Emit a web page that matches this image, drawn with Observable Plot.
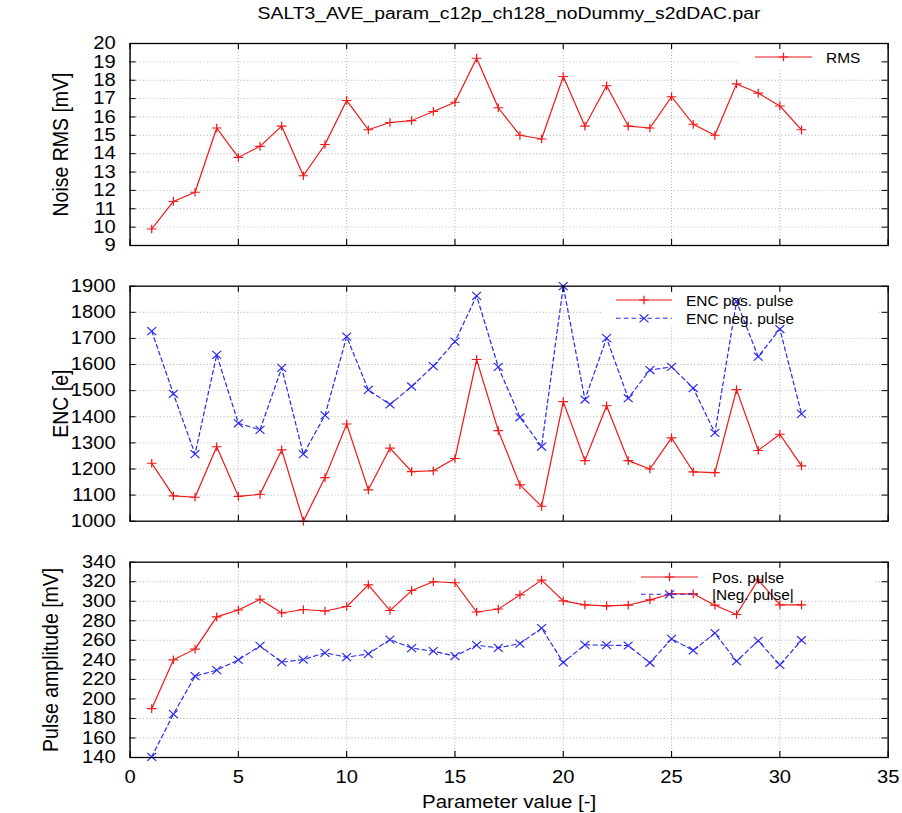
<!DOCTYPE html>
<html>
<head>
<meta charset="utf-8">
<script src="https://cdn.jsdelivr.net/npm/d3@7"></script>
<script src="https://cdn.jsdelivr.net/npm/@observablehq/plot@0.6"></script>
<style>
  body { margin: 0; background: #fff; }
  #chart { position: relative; width: 902px; height: 813px; overflow: hidden; background: #fff;
           font-family: "Liberation Sans", Arial, Helvetica, sans-serif; }
  #chart svg { position: absolute; left: 0; }
  #title { position: absolute; top: 5px; left: 508.5px; white-space: nowrap; font-size: 17.3px; line-height: 17.3px;
           transform: translateX(-50%) scaleX(1.12); transform-origin: center; color: #000; }
</style>
</head>
<body>
<div id="chart"><div id="title">SALT3_AVE_param_c12p_ch128_noDummy_s2dDAC.par</div></div>
<script>
// ---------- data ----------
const params = [1,2,3,4,5,6,7,8,9,10,11,12,13,14,15,16,17,18,19,20,21,22,23,24,25,26,27,28,29,30,31];
const rms = [9.9,11.4,11.9,15.4,13.8,14.4,15.5,12.8,14.5,16.9,15.3,15.7,15.8,16.3,16.8,19.2,16.5,15.0,14.8,18.2,15.5,17.7,15.5,15.4,17.1,15.6,15.0,17.8,17.3,16.6,15.3];
const encPos = [1222,1097,1092,1285,1095,1103,1273,1000,1167,1372,1120,1280,1190,1193,1240,1619,1347,1139,1057,1458,1232,1442,1232,1200,1319,1189,1186,1504,1271,1333,1212];
const encNeg = [1728,1488,1257,1637,1375,1350,1587,1257,1405,1707,1503,1447,1516,1594,1688,1863,1591,1398,1286,1900,1466,1701,1471,1579,1591,1510,1338,1842,1630,1736,1411];
const ampPos = [190,240,251,284,291,302,288,291.5,290,294.6,316.8,290.5,311,320,319,289,292,306.5,321.6,300.4,296.3,295.3,296,301.4,307.6,307.6,296,286.4,322,296.3,296.3];
const ampNeg = [140.7,184.4,223.3,229.4,240,254.3,237.6,240.3,247.2,242.7,246.1,260.8,252,248.9,243.8,255,252.3,256.7,272.4,237.3,255.4,255,254.7,237,261.5,249.6,267.3,238.6,259.5,234.9,260.1];

const xTicks = [0,5,10,15,20,25,30,35];
const rmsTicks = [9,10,11,12,13,14,15,16,17,18,19,20];
const encTicks = [1000,1100,1200,1300,1400,1500,1600,1700,1800,1900];
const ampTicks = [140,160,180,200,220,240,260,280,300,320,340];

const yLabels = ["Noise RMS [mV]", "ENC [e]", "Pulse amplitude [mV]"];
const xLabel = "Parameter value [-]";
const legendRms = ["RMS"];
const legendEnc = ["ENC pos. pulse", "ENC neg. pulse"];
const legendAmp = ["Pos. pulse", "|Neg. pulse|"];

const table = params.map((p, i) => ({p, rms: rms[i], encPos: encPos[i], encNeg: encNeg[i], ampPos: ampPos[i], ampNeg: ampNeg[i]}));

// ---------- layout ----------
const S = 1.12;                 // horizontal stretch of the original picture
const W = 902 / S;
const mL = 129.5 / S, mR = 14.4 / S;
const innerW = W - mL - mR;
const FONT = "'Liberation Sans', Arial, Helvetica, sans-serif";
const FS = 18;          // tick labels
const FS_AX = 19.5;     // rotated axis titles
const FS_X = 18.3;      // x axis title
const FS_LEG = 13.8;    // legend
const RED = "#f01818", BLUE = "#2a2af0";
const GRID = {stroke: "#b4b4b4", strokeOpacity: 1, strokeDasharray: "1,2", strokeWidth: 0.9};
const intFmt = d3.format("d");

const chart = document.getElementById("chart");

function makePanel(cfg) {
  const innerH = cfg.height - cfg.mt - cfg.mb;
  const marks = [
    Plot.gridX(xTicks.slice(1, -1), GRID),
    Plot.gridY(cfg.ticks.slice(1, -1), GRID),
    Plot.frame({fill: "white", stroke: null, ...cfg.box}),
  ];
  for (const s of cfg.series) {
    marks.push(Plot.line(table, {x: "p", y: s.key, stroke: s.color, strokeWidth: 1.1, strokeDasharray: s.dash}));
    marks.push(Plot.dot(table, {x: "p", y: s.key, symbol: s.symbol, r: s.r, stroke: s.color, strokeWidth: 1.1}));
  }
  marks.push(
    Plot.tickY(cfg.ticks, {y: d => d, insetRight: innerW - 5.5, stroke: "black"}),
    Plot.tickY(cfg.ticks, {y: d => d, insetLeft: innerW - 5.5, stroke: "black"}),
    Plot.tickX(xTicks, {x: d => d, insetTop: innerH - 6, stroke: "black"}),
    Plot.tickX(xTicks, {x: d => d, insetBottom: innerH - 6, stroke: "black"}),
    Plot.axisY(cfg.ticks, {anchor: "left", tickSize: 0, tickPadding: 12.9, fontSize: FS, label: null, tickFormat: intFmt}),
    Plot.text([cfg.label], {frameAnchor: "left", dx: cfg.labelDx, rotate: -90, textAnchor: "middle", lineAnchor: "middle", fontSize: FS_AX, text: d => d}),
    Plot.frame({stroke: "black", strokeWidth: 1.3})
  );
  if (cfg.showX) {
    marks.push(
      Plot.axisX(xTicks, {anchor: "bottom", tickSize: 0, tickPadding: 12.5, fontSize: FS, label: null, tickFormat: intFmt}),
      Plot.text([xLabel], {frameAnchor: "bottom", dy: 45, textAnchor: "middle", lineAnchor: "middle", fontSize: FS_X, text: d => d})
    );
  }
  const svg = Plot.plot({
    width: W, height: cfg.height,
    marginLeft: mL, marginRight: mR, marginTop: cfg.mt, marginBottom: cfg.mb,
    style: {fontFamily: FONT, fontSize: FS + "px", color: "black", background: "transparent", overflow: "visible"},
    x: {domain: [0, 35], axis: null},
    y: {domain: cfg.domain, axis: null},
    marks
  });
  // legend (page coordinates converted to viewBox units)
  const g = d3.select(svg).append("g").attr("font-family", FONT).attr("font-size", FS_LEG).attr("text-anchor", "start");
  cfg.legend.forEach((it) => {
    const y = it.y - cfg.top;
    g.append("line").attr("x1", it.x1 / S).attr("x2", it.x2 / S).attr("y1", y).attr("y2", y)
      .attr("stroke", it.color).attr("stroke-width", 1.1).attr("stroke-dasharray", it.dash || null);
    g.append("path").attr("d", d3.symbol(it.symbol, it.r * it.r * Math.PI)())
      .attr("transform", `translate(${(it.x1 + it.x2) / 2 / S},${y})`)
      .attr("fill", "none").attr("stroke", it.color).attr("stroke-width", 1.1);
    g.append("text").attr("transform", `translate(${it.tx / S},${y}) scale(1,1.12)`)
      .attr("dy", "0.36em").attr("fill", "black").text(it.label);
  });
  svg.setAttribute("width", 902);
  svg.setAttribute("height", cfg.height);
  svg.setAttribute("preserveAspectRatio", "none");
  svg.style.width = "902px";
  svg.style.height = cfg.height + "px";
  svg.style.maxWidth = "none";
  svg.style.top = cfg.top + "px";
  chart.appendChild(svg);
}

const PLUS = {symbol: "plus", r: 2.9}, TIMES = {symbol: "times", r: 3.7};

makePanel({
  top: 30, height: 230, mt: 13, mb: 15, domain: [9, 20], ticks: rmsTicks,
  label: yLabels[0], labelDx: 60 / S - mL, showX: false,
  box: {insetLeft: (740 - 129.5) / S, insetRight: 0.5, insetTop: 2, insetBottom: 177},
  series: [{key: "rms", color: RED, ...PLUS}],
  legend: [{x1: 755, x2: 812, y: 57, tx: 826, color: RED, symbol: d3.symbolPlus, r: PLUS.r, label: legendRms[0]}]
});
makePanel({
  top: 270, height: 265, mt: 15.7, mb: 14.3, domain: [1000, 1900], ticks: encTicks,
  label: yLabels[1], labelDx: 60 / S - mL, showX: false,
  box: {insetLeft: (601 - 129.5) / S, insetRight: 10, insetTop: 4.3, insetBottom: 195.7},
  series: [{key: "encPos", color: RED, ...PLUS}, {key: "encNeg", color: BLUE, dash: "4,3", ...TIMES}],
  legend: [
    {x1: 616, x2: 672, y: 300, tx: 686, color: RED, symbol: d3.symbolPlus, r: PLUS.r, label: legendEnc[0]},
    {x1: 616, x2: 672, y: 318.3, tx: 686, color: BLUE, symbol: d3.symbolTimes, r: TIMES.r, dash: "4,3", label: legendEnc[1]}
  ]
});
makePanel({
  top: 545, height: 268, mt: 16.7, mb: 56, domain: [140, 340], ticks: ampTicks,
  label: yLabels[2], labelDx: 50 / S - mL, showX: true,
  box: {insetLeft: (635 - 129.5) / S, insetRight: 12, insetTop: 5.3, insetBottom: 159},
  series: [{key: "ampPos", color: RED, ...PLUS}, {key: "ampNeg", color: BLUE, dash: "4,3", ...TIMES}],
  legend: [
    {x1: 641, x2: 698, y: 577, tx: 712, color: RED, symbol: d3.symbolPlus, r: PLUS.r, label: legendAmp[0]},
    {x1: 641, x2: 698, y: 594.3, tx: 712, color: BLUE, symbol: d3.symbolTimes, r: TIMES.r, dash: "4,3", label: legendAmp[1]}
  ]
});
</script>
</body>
</html>
